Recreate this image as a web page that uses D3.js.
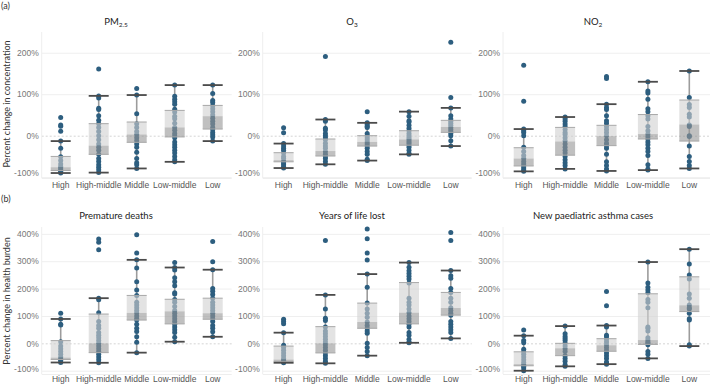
<!DOCTYPE html>
<html><head><meta charset="utf-8">
<script src="https://cdn.jsdelivr.net/npm/d3@7"></script>
<style>
body{margin:0;background:#fff}
svg{display:block;font-family:Lato,"Noto Sans",sans-serif}
</style>
</head><body>
<svg id="c" width="710" height="384"></svg>
<script>
const categories = ["High","High-middle","Middle","Low-middle","Low"];
const panelTitles = [["PM","2.5"],["O","3"],["NO","2"],["Premature deaths",""],["Years of life lost",""],["New paediatric asthma cases",""]];
const rowTags = ["(a)","(b)"];
const rowAxisTitles = ["Percent change in concentration","Percent change in health burden"];
const topTicks = [-100,0,100,200];
const bottomTicks = [-100,0,100,200,300,400];

// box stats per category: [lower whisker, Q1, median, Q3, upper whisker]
const pm25Box = [[-90,-84,-76,-50,-13],[-89,-45,-24,29,96],[-79,-16,3,33,98],[-63,-3,20,61,122],[-13,16,47,73,122]];
const pm25Pts = [
 [44,26,23,11,-13,-30,-51,-60,-68,-74,-78,-82,-86,-90],
 [161,96,91,66,63,48,37,29,20,10,0,-10,-20,-28,-35,-45,-55,-62,-70,-76,-82,-89],
 [114,98,53,29,20,10,3,-5,-12,-20,-28,-40,-55,-65,-70,-79],
 [122,95,88,82,76,64,57,47,41,30,20,13,5,0,-5,-15,-22,-28,-35,-42,-50,-58,-63],
 [122,102,85,80,72,65,58,50,42,35,28,20,15,8,2,-3,-13]];
const o3Box = [[-78,-63,-59,-41,-19],[-69,-49,-37,-8,39],[-60,-25,-15,0,31],[-45,-23,-9,12,58],[-25,8,21,37,67]];
const o3Pts = [
 [19,7,-19,-25,-30,-35,-42,-50,-55,-62,-66,-70,-75,-78],
 [191,39,35,18,14,5,0,-5,-10,-18,-25,-30,-38,-45,-50,-55,-62,-69],
 [58,31,27,23,20,5,0,-5,-10,-15,-20,-25,-30,-38,-45,-57,-60],
 [58,47,36,33,25,18,12,5,0,-5,-9,-14,-18,-23,-28,-35,-43,-45],
 [225,92,67,48,40,35,30,25,20,15,10,5,0,-12,-25]];
const no2Box = [[-86,-73,-55,-29,16],[-80,-47,-14,20,45],[-85,-24,-1,25,76],[-83,-8,4,51,130],[-79,-13,27,86,156]];
const no2Pts = [
 [170,83,16,12,8,0,-28,-38,-48,-55,-62,-68,-73,-78,-83,-86],
 [45,40,35,28,22,15,8,3,-5,-12,-20,-28,-35,-42,-50,-58,-65,-72,-80],
 [143,138,76,68,63,48,36,30,22,15,8,0,-10,-18,-24,-30,-45,-63,-72,-80,-85],
 [130,108,103,88,65,58,48,40,22,12,4,-2,-8,-15,-22,-30,-38,-48,-70,-80,-83],
 [156,92,75,68,52,45,26,22,0,-2,-25,-50,-62,-72,-79]];
const deathsBox = [[-70,-59,-52,10,89],[-71,-34,0,107,165],[-34,85,111,175,305],[6,71,117,161,277],[24,88,110,165,269]];
const deathsPts = [
 [110,89,70,67,6,-10,-20,-30,-40,-50,-58,-63,-70],
 [381,369,342,165,159,112,80,65,55,40,30,20,10,0,-10,-20,-30,-40,-50,-60,-71],
 [397,330,305,275,225,195,175,150,140,130,120,111,100,90,85,70,55,43,24,4,-34],
 [295,277,268,240,225,210,185,180,160,150,135,120,110,100,90,80,70,60,50,40,22,6],
 [372,298,269,200,190,178,165,150,140,130,120,110,100,90,80,65,55,42,24]];
const yllBox = [[-71,-66,-59,-10,39],[-73,-35,0,61,177],[-45,55,78,147,253],[2,71,112,222,295],[18,103,129,186,266]];
const yllPts = [
 [88,80,72,39,-7,-15,-25,-35,-45,-55,-62,-68,-71],
 [376,177,125,92,83,60,45,35,25,15,5,-5,-15,-25,-35,-45,-55,-65,-73],
 [418,382,330,304,253,205,147,125,110,95,78,65,55,45,37,0,-15,-30,-45],
 [295,278,265,255,245,235,220,165,150,140,125,112,100,90,80,70,60,40,30,15,5,2],
 [405,376,266,247,238,200,186,165,150,130,120,110,103,80,70,60,50,40,18]];
const asthmaBox = [[-100,-82,-76,-31,28],[-84,-45,-18,0,63],[-76,-29,-7,17,65],[-55,-4,12,181,297],[-10,116,139,243,344]];
const asthmaPts = [
 [49,28,10,2,-22,-31,-40,-50,-60,-70,-78,-84,-90,-100],
 [63,35,25,18,10,0,-10,-20,-30,-45,-55,-65,-78,-84],
 [189,137,65,60,30,25,15,5,-5,-15,-25,-35,-45,-55,-68,-73,-76],
 [297,220,205,195,185,160,150,130,60,55,45,20,12,5,0,-5,-30,-40,-55],
 [344,290,250,235,180,165,140,130,125,110,90,85,-5,-10]];

const panelBoxes = [pm25Box,o3Box,no2Box,deathsBox,yllBox,asthmaBox];
const panelPoints = [pm25Pts,o3Pts,no2Pts,deathsPts,yllPts,asthmaPts];

// layout
const cols = [{x0:41.7,x1:231.7,cx:116},{x0:262.7,x1:471.7,cx:352},{x0:503,x1:710,cx:593}];
const rows = [
  {y0:32,y1:178,domain:[-102,250],ticks:topTicks,titleY:23,tagY:6.5,axisTitleY:104,pad:4},
  {y0:227,y1:374,domain:[-112,425],ticks:bottomTicks,titleY:217,tagY:200,axisTitleY:301,pad:1.5}
];

const svg = d3.select("#c");
const dotColor = "#2d5e7f";

rows.forEach((r,ri)=>{
  svg.append("text").attr("x",1).attr("y",r.tagY).attr("dominant-baseline","middle")
    .attr("font-size",9).attr("fill","#333").text(rowTags[ri]);
  svg.append("text").attr("transform",`translate(8,${r.axisTitleY}) rotate(-90)`)
    .attr("text-anchor","middle").attr("dominant-baseline","middle")
    .attr("font-size",9).attr("fill","#333").text(rowAxisTitles[ri]);
});

rows.forEach((r,ri)=>{
  cols.forEach((c,ci)=>{
    const pi = ri*3+ci;
    const g = svg.append("g");
    const x = d3.scaleBand().domain(categories).range([c.x0,c.x1]);
    const y = d3.scaleLinear().domain(r.domain).range([r.y1,r.y0]);
    const bw = 20;

    // gridlines
    const grid = g.append("g").attr("transform",`translate(${c.x0},0)`)
      .call(d3.axisLeft(y).tickValues(r.ticks).tickSize(-(c.x1-c.x0)).tickFormat(""));
    grid.select(".domain").remove();
    grid.selectAll(".tick line").attr("stroke",d=>d===0?"#d4d4d4":"#efefef")
      .attr("stroke-dasharray",d=>d===0?"2,2":null);
    // pane borders
    g.append("line").attr("x1",c.x0).attr("x2",c.x0).attr("y1",r.y0).attr("y2",r.y1).attr("stroke","#eeeeee");
    g.append("line").attr("x1",c.x0).attr("x2",c.x1).attr("y1",r.y1+0.5).attr("y2",r.y1+0.5).attr("stroke","#eeeeee");

    // y labels
    const ya = g.append("g").attr("transform",`translate(${c.x0},0)`)
      .call(d3.axisLeft(y).tickValues(r.ticks).tickSize(0).tickPadding(3).tickFormat(d=>d+"%"));
    ya.select(".domain").remove();
    ya.selectAll("text").attr("font-size",8.5).attr("fill","#777").attr("font-family",null)
      .attr("y",d=>Math.min(0,(r.y1-5)-y(d)));

    // x labels
    const xa = g.append("g").attr("transform",`translate(0,${r.y1})`)
      .call(d3.axisBottom(x).tickSize(0).tickPadding(r.pad));
    xa.select(".domain").remove();
    xa.selectAll("text").attr("font-size",8.5).attr("fill","#555").attr("font-family",null);

    // title
    const t = svg.append("text").attr("x",c.cx).attr("y",r.titleY).attr("text-anchor","middle")
      .attr("dominant-baseline","middle").attr("font-size",9.5).attr("fill","#222");
    t.append("tspan").text(panelTitles[pi][0]);
    if(panelTitles[pi][1]) t.append("tspan").attr("font-size",6.5).attr("dy",2).text(panelTitles[pi][1]);

    const boxes = panelBoxes[pi], pts = panelPoints[pi];
    categories.forEach((cat,k)=>{
      const s = boxes[k];
      const cx = x(cat)+x.bandwidth()/2;
      const cg = g.append("g");
      cg.append("line").attr("x1",cx).attr("x2",cx).attr("y1",y(s[0])).attr("y2",y(s[4]))
        .attr("stroke","#9c9c9c").attr("stroke-width",1.6);
      cg.selectAll("circle").data(pts[k]).join("circle")
        .attr("cx",cx).attr("cy",d=>y(d)).attr("r",2.5).attr("fill",dotColor);
      cg.append("rect").attr("x",cx-bw/2).attr("width",bw).attr("y",y(s[3])).attr("height",y(s[2])-y(s[3]))
        .attr("fill","#d0d0d0").attr("fill-opacity",0.6);
      cg.append("rect").attr("x",cx-bw/2).attr("width",bw).attr("y",y(s[2])).attr("height",y(s[1])-y(s[2]))
        .attr("fill","#969696").attr("fill-opacity",0.6);
      [s[1],s[3]].forEach(v=>{
        cg.append("line").attr("x1",cx-bw/2).attr("x2",cx+bw/2).attr("y1",y(v)).attr("y2",y(v))
          .attr("stroke","#a8a8a8").attr("stroke-width",1);
      });
      [s[0],s[4]].forEach(v=>{
        cg.append("line").attr("x1",cx-bw/2).attr("x2",cx+bw/2).attr("y1",y(v)).attr("y2",y(v))
          .attr("stroke","#4b4b4b").attr("stroke-width",1.8);
      });
    });
  });
});
</script>
</body></html>
